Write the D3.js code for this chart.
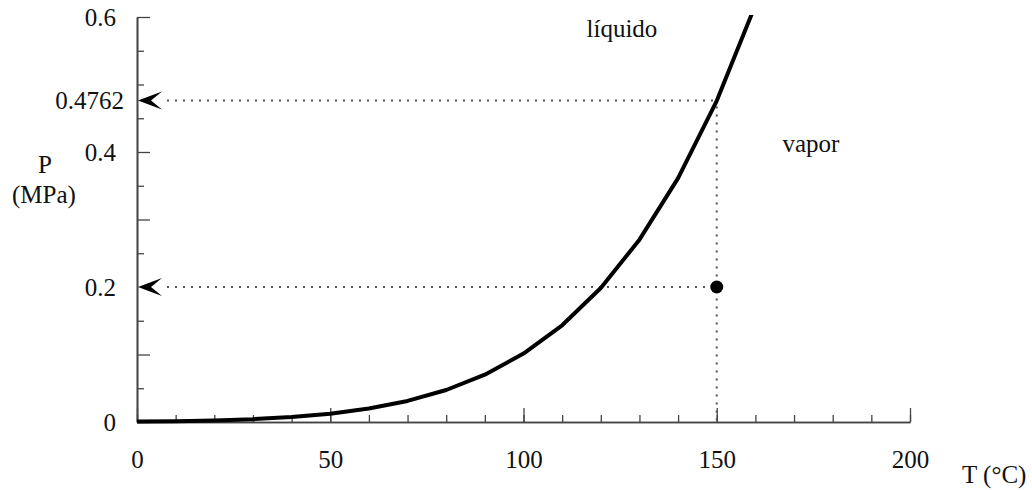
<!DOCTYPE html>
<html>
<head>
<meta charset="utf-8">
<script src="https://cdn.jsdelivr.net/npm/d3@7"></script>
<style>
  body { margin: 0; background: #fff; }
  svg text { font-family: "Liberation Serif", "Times New Roman", serif; font-size: 25px; fill: #111; }
</style>
</head>
<body>
<div id="chart"></div>
<script>
// saturation curve of water, T in degC, P in MPa
const tempC = [0, 10, 20, 30, 40, 50, 60, 70, 80, 90, 100, 110, 120, 130, 140, 150, 160];
const pressMPa = [0.0006, 0.0012, 0.0023, 0.0042, 0.0074, 0.0123, 0.0199, 0.0312, 0.0474, 0.0701,
                  0.1014, 0.1433, 0.1985, 0.2701, 0.3613, 0.4758, 0.6178];

const xLabels = [0, 50, 100, 150, 200];
const xMinor = d3.range(0, 201, 10);
const yLabels = [0, 0.2, 0.4, 0.4762, 0.6];
const yMajor = [0, 0.1, 0.3, 0.4, 0.6];
const yMinor = [0.05, 0.15, 0.25, 0.35, 0.45, 0.5, 0.55];

const satT = 150, satP = 0.4762;   // point on curve
const stateT = 150, stateP = 0.2;  // the state point

const width = 1032, height = 490;
const x = d3.scaleLinear().domain([0, 200]).range([137, 910]);
const y = d3.scaleLinear().domain([0, 0.6]).range([422, 17]);

const svg = d3.select("#chart").append("svg")
    .attr("width", width)
    .attr("height", height);

svg.append("defs").append("clipPath").attr("id", "plotclip")
  .append("rect").attr("x", x(0)).attr("y", y(0.6) - 2)
  .attr("width", x(200) - x(0)).attr("height", y(0) - y(0.6) + 10);

// axes: minor ticks, major ticks, labels
const axisColor = "#444";
function styleAxis(g) {
  g.select(".domain").attr("stroke", axisColor).attr("stroke-width", 1.6);
  g.selectAll(".tick line").attr("stroke", axisColor).attr("stroke-width", 1.3);
  g.selectAll(".tick text").attr("fill", "#111").style("font-family", "Liberation Serif, serif").style("font-size", "25px");
}

svg.append("g").attr("transform", `translate(0,${y(0)})`)
  .call(d3.axisBottom(x).tickValues(xMinor).tickSizeInner(-7).tickSizeOuter(0).tickFormat(""))
  .call(styleAxis);
svg.append("g").attr("transform", `translate(0,${y(0)})`)
  .call(d3.axisBottom(x).tickValues(xLabels).tickSizeInner(-14).tickSizeOuter(0).tickPadding(28).tickFormat(d => String(d)))
  .call(styleAxis);

svg.append("g").attr("transform", `translate(${x(0)},0)`)
  .call(d3.axisLeft(y).tickValues(yMinor).tickSizeInner(-7).tickSizeOuter(0).tickFormat(""))
  .call(styleAxis);
svg.append("g").attr("transform", `translate(${x(0)},0)`)
  .call(d3.axisLeft(y).tickValues(yMajor).tickSizeInner(-13).tickSizeOuter(0).tickFormat(""))
  .call(styleAxis);
svg.append("g").attr("transform", `translate(${x(0)},0)`)
  .call(d3.axisLeft(y).tickValues(yLabels).tickSizeInner(0).tickSizeOuter(0).tickPadding(21).tickFormat(d => String(d)))
  .call(styleAxis)
  .call(g => g.select(".domain").remove())
  .call(g => g.selectAll(".tick text").filter(d => d === satP).attr("x", -13));

// dotted guide lines
const dotted = svg.append("g")
    .attr("fill", "none")
    .attr("stroke", "#555")
    .attr("stroke-width", 2)
    .attr("stroke-dasharray", "2,6");
dotted.append("line")
    .attr("x1", x(0) + 30).attr("x2", x(satT))
    .attr("y1", y(satP)).attr("y2", y(satP));
dotted.append("line")
    .attr("x1", x(0) + 30).attr("x2", x(stateT))
    .attr("y1", y(stateP)).attr("y2", y(stateP));
dotted.append("line")
    .attr("x1", x(satT)).attr("x2", x(satT))
    .attr("y1", y(satP) + 6).attr("y2", y(0));

// arrowheads on the P axis
svg.selectAll("path.arrow")
  .data([satP, stateP])
  .enter().append("path")
    .attr("class", "arrow")
    .attr("transform", d => `translate(${x(0) + 1},${y(d)})`)
    .attr("d", "M0,0 L24,-9 L13,0 L24,9 Z")
    .attr("fill", "#000");

// saturation curve
const line = d3.line()
    .x((d, i) => x(tempC[i]))
    .y(d => y(d));
svg.append("path")
    .datum(pressMPa)
    .attr("clip-path", "url(#plotclip)")
    .attr("fill", "none")
    .attr("stroke", "#000")
    .attr("stroke-width", 4)
    .attr("stroke-linejoin", "round")
    .attr("d", line);

// state point
svg.append("circle")
    .attr("cx", x(stateT))
    .attr("cy", y(stateP))
    .attr("r", 6.5)
    .attr("fill", "#000");

// region labels
svg.append("text").attr("x", x(116.3)).attr("y", y(0.570)).text("líquido");
svg.append("text").attr("x", x(167)).attr("y", y(0.40)).text("vapor");

// axis titles
svg.append("text").attr("x", 45).attr("y", 173).attr("text-anchor", "middle").text("P");
svg.append("text").attr("x", 44).attr("y", 203).attr("text-anchor", "middle").text("(MPa)");
svg.append("text").attr("x", 962).attr("y", 483).text("T (°C)");
</script>
</body>
</html>
